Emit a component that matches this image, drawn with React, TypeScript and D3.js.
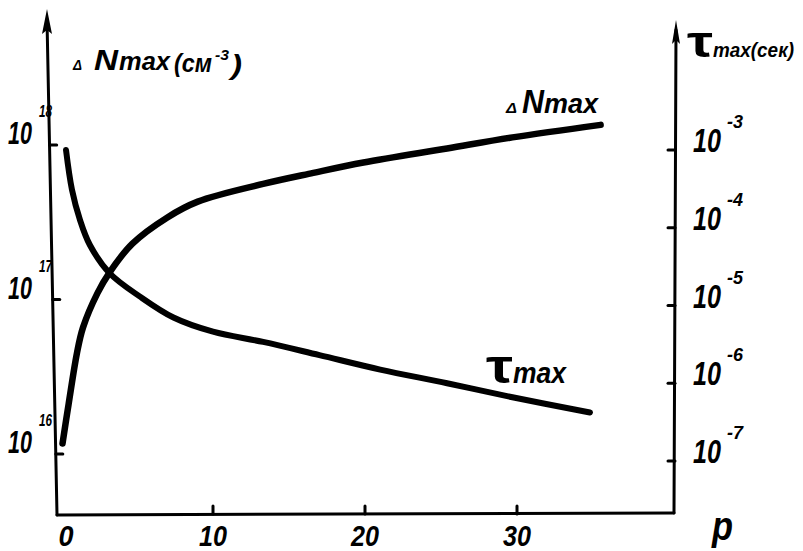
import React from "react";
import * as d3 from "d3";

// p values and curves
const pN = [0.1, 0.5, 1.05, 1.45, 2.4, 3.2, 4.7, 7, 9, 13.3, 16.6, 19.9, 25.4, 29.7, 35.5];
const deltaN = [1.17e16, 2.1e16, 4.5e16, 6.6e16, 1.1e17, 1.5e17, 2.3e17, 3.4e17, 4.3e17, 5.6e17, 6.6e17, 7.7e17, 9.5e17, 1.12e18, 1.35e18];

const pT = [0.33, 0.72, 1.25, 1.9, 3.2, 5.2, 7.4, 10, 13.3, 17, 21, 25.4, 29.7, 34.8];
const tau = [1e-3, 3.1e-4, 1.26e-4, 6e-5, 2.6e-5, 1.3e-5, 7e-6, 4.6e-6, 3.4e-6, 2.3e-6, 1.5e-6, 1e-6, 6.6e-7, 4.2e-7];

const xTicks = [0, 10, 20, 30];
const nTicks = [1e16, 1e17, 1e18];
const nTickExp = ["16", "17", "18"];
const tTicks = [1e-7, 1e-6, 1e-5, 1e-4, 1e-3];
const tTickExp = ["-7", "-6", "-5", "-4", "-3"];

const W = 803;
const H = 551;
const FONT = "'Liberation Sans', Arial, sans-serif";

export default function App() {
  const x = d3.scaleLinear().domain([0, 30]).range([61, 517]);
  const yN = d3.scaleLog().domain([1e16, 1e18]).range([454, 145]);
  const yT = d3.scaleLog().domain([1e-7, 1e-3]).range([461, 150]);

  const lineN = d3
    .line<number>()
    .x((d, i) => x(pN[i]))
    .y((d) => yN(d))
    .curve(d3.curveCatmullRom.alpha(0.5));
  const lineT = d3
    .line<number>()
    .x((d, i) => x(pT[i]))
    .y((d) => yT(d))
    .curve(d3.curveCatmullRom.alpha(0.5));

  const x0 = 57, yBase = 515, xR = 674;
  // left axis leans a bit
  const leftAt = (y: number) => 47 + ((y - 10) / (yBase - 10)) * (x0 - 47);

  const txt = { fontFamily: FONT, fontWeight: 700, fontStyle: "italic" as const, fill: "#000", lengthAdjust: "spacingAndGlyphs" };

  return (
    <svg width={W} height={H} style={{ position: "absolute", left: 0, top: 0, background: "#fff" }}>
      <rect width={W} height={H} fill="#fff" />
      {/* axes */}
      <g stroke="#000" strokeWidth={3} fill="none" strokeLinecap="round">
        <line x1={x0} y1={yBase} x2={47} y2={20} />
        <line x1={x0} y1={yBase} x2={xR} y2={513} />
        <line x1={xR} y1={513} x2={676} y2={30} />
        {xTicks.slice(1).map((t) => (
          <line key={t} x1={x(t)} x2={x(t)} y1={514} y2={506} />
        ))}
        {nTicks.map((t) => (
          <line key={t} x1={leftAt(yN(t))} x2={leftAt(yN(t)) + 7} y1={yN(t)} y2={yN(t)} />
        ))}
        {tTicks.map((t) => (
          <line key={t} x1={xR + 1} x2={xR - 6} y1={yT(t)} y2={yT(t)} />
        ))}
      </g>
      <path d="M47,9 L52,34 L47,30 L42,34 Z" fill="#000" />
      <path d="M676,20 L680,44 L676,40 L672,44 Z" fill="#000" />

      {/* curves */}
      <path d={lineN(deltaN) || ""} fill="none" stroke="#000" strokeWidth={6.5} strokeLinecap="round" strokeLinejoin="round" />
      <path d={lineT(tau) || ""} fill="none" stroke="#000" strokeWidth={6} strokeLinecap="round" strokeLinejoin="round" />

      {/* x tick labels */}
      {xTicks.map((t) => (
        <text key={t} x={x(t) + (t === 0 ? 5 : 0)} y={546} textAnchor="middle" fontSize={30}
          textLength={t === 0 ? 15 : 28} {...txt}>
          {t}
        </text>
      ))}
      <text x={712} y={540} fontSize={40} textLength={21} {...txt}>р</text>

      {/* left tick labels */}
      {nTicks.map((t, i) => (
        <g key={t}>
          <text x={8} y={yN(t) - 1} fontSize={32} textLength={24} {...txt}>10</text>
          <text x={39} y={yN(t) - 28} fontSize={17} textLength={13} {...txt}>{nTickExp[i]}</text>
        </g>
      ))}

      {/* right tick labels */}
      {tTicks.map((t, i) => (
        <g key={t}>
          <text x={693} y={yT(t) + 2} fontSize={33} textLength={28} {...txt}>10</text>
          <text x={727} y={yT(t) - 22} fontSize={19} textLength={16} {...txt}>{tTickExp[i]}</text>
        </g>
      ))}

      {/* axis titles */}
      <text x={73} y={70} fontSize={15} textLength={9} {...txt}>Δ</text>
      <text x={94} y={70} fontSize={29} textLength={24} {...txt}>N</text>
      <text x={119} y={70} fontSize={26} textLength={51} {...txt}>max</text>
      <text x={174} y={72} fontSize={26} textLength={38} {...txt}>(см</text>
      <text x={215} y={60} fontSize={15} textLength={14} {...txt}>-3</text>
      <text x={231} y={74} fontSize={28} textLength={11} {...txt}>)</text>

      <text x={687} y={57} fontSize={44} textLength={26} {...txt} fontStyle="normal">τ</text>
      <text x={713} y={57} fontSize={20} textLength={81} {...txt}>max(сек)</text>

      {/* curve labels */}
      <text x={506} y={113} fontSize={15} textLength={11} {...txt}>Δ</text>
      <text x={522} y={113} fontSize={33} textLength={22} {...txt}>N</text>
      <text x={544} y={113} fontSize={28} textLength={54} {...txt}>max</text>

      <text x={486} y={383} fontSize={48} textLength={27} {...txt} fontStyle="normal">τ</text>
      <text x={513} y={383} fontSize={29} textLength={53} {...txt}>max</text>
    </svg>
  );
}
